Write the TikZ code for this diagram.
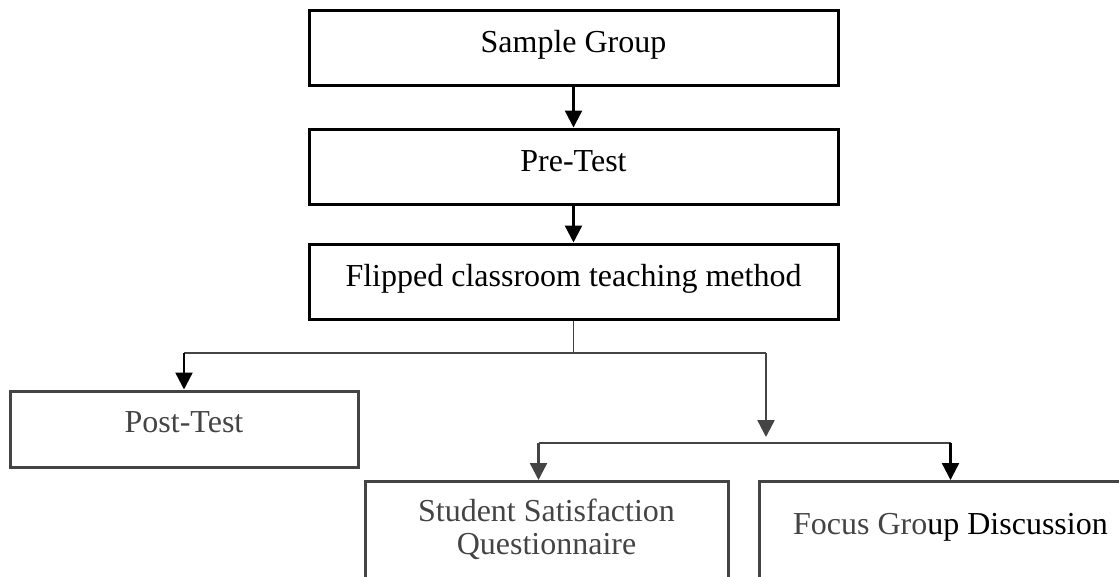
\documentclass[tikz,border=0pt]{standalone}
\usepackage{fontspec}
\setmainfont{Liberation Serif}
\usetikzlibrary{arrows.meta,positioning}

\definecolor{scangray}{HTML}{444444}

\tikzset{
  box/.style={draw, line width=3pt, inner sep=0pt, minimum height=75pt,
    text height=42pt, text depth=33pt, font=\fontsize{32}{34}\selectfont},
  graybox/.style={box, draw=scangray, text=scangray},
  arr/.style={line width=2.4pt, -{Triangle[length=17pt,width=17pt]}},
  link/.style={line width=1.6pt, draw=scangray}
}

\begin{document}
\begin{tikzpicture}[x=1pt,y=-1pt,node distance=41pt]
   \useasboundingbox (0,0) rectangle (1119,576);
   \clip (0,0) rectangle (1119,576);
   % main column
   \node[box, minimum width=529pt] (sample) at (573.5,47.5) {Sample Group};
   \node[box, minimum width=529pt] (pre) [below=of sample] {Pre-Test};
   \node[box, minimum width=529pt] (flip) [below=37pt of pre] {Flipped classroom teaching method};
   % outcomes
   \node[graybox, minimum width=348pt, minimum height=76pt, text height=41pt, text depth=35pt] (post) at (184,429) {Post-Test};
   \node[graybox, minimum width=363pt, minimum height=130pt, anchor=north] (ssq) at (546.5,480) {};
   \node[text=scangray, align=center, anchor=north, inner sep=0pt,
     font=\fontsize{32}{33}\selectfont] (ssqtext) at (546.5,499) {Student Satisfaction\\Questionnaire};
   \node[graybox, minimum width=382pt, minimum height=120pt, text height=53pt, text depth=67pt, anchor=north west] (fgd) at (758,480) {{\color{scangray}Focus Gro}\color{black}up Discussion};
   % connectors
   \coordinate (fork) at (flip.south |- 0,353);
   \coordinate (join) at (766,437);
   \coordinate (fork2) at (766,443);
   \coordinate (ssqin) at ([xshift=-8pt]ssq.north);
   \draw[arr] (sample) -- (pre);
   \draw[arr] (pre) -- (flip);
   \draw[link] (flip.south) -- (fork);
   \draw[link] (fork -| post.north) -- (fork -| join);
   \draw[arr] (fork -| post.north) -- (post.north);
   \draw[arr, color=scangray] (fork -| join) -- (join);
   \draw[link] (fork2 -| ssqin) -- (fork2 -| fgd.north);
   \draw[arr, color=scangray] (fork2 -| ssqin) -- (ssqin);
   \draw[arr] (fork2 -| fgd.north) -- (fgd.north);
\end{tikzpicture}
\end{document}
